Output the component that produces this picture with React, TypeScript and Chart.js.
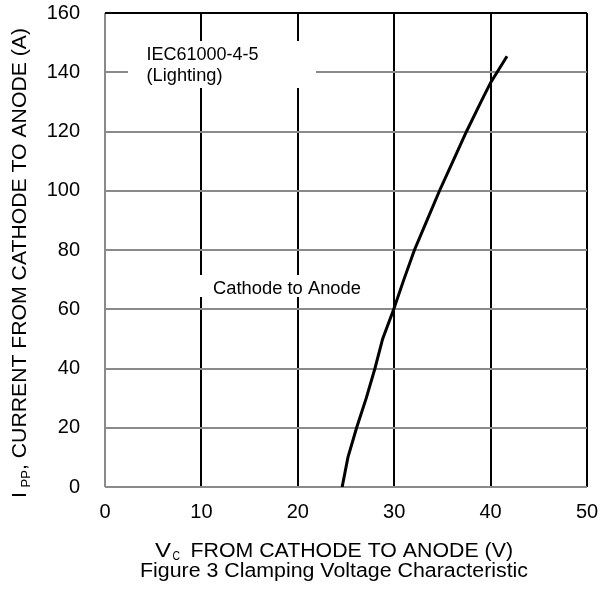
import { useEffect, useRef } from 'react';
import { Chart, registerables } from 'chart.js';

Chart.register(...registerables);

// Clamping voltage (V) vs peak pulse current (A)
const voltage = [24.6, 25.2, 26.1, 27.1, 28.0, 28.8, 29.95, 31.0, 32.1, 33.4, 34.7, 36.1, 37.5, 39.0, 40.0, 41.7];
const current = [0, 10, 20, 30, 40, 50, 60, 70, 80, 90, 100, 110, 120, 130, 136.5, 145.4];

const xMin = 0;
const xMax = 50;
const xStep = 10;
const yMin = 0;
const yMax = 160;
const yStep = 20;

const annotationTop = ['IEC61000-4-5', '(Lighting)'];
const annotationMid = 'Cathode to Anode';
const xTitleMain = 'V';
const xTitleSub = 'C';
const xTitleRest = 'FROM CATHODE TO ANODE (V)';
const yTitleMain = 'I';
const yTitleSub = 'PP';
const yTitleRest = ', CURRENT FROM CATHODE TO ANODE (A)';
const caption = 'Figure 3 Clamping Voltage Characteristic';

const FONT = '"Liberation Sans", Arial, sans-serif';

function fitText(ctx: CanvasRenderingContext2D, text: string, x: number, y: number, width: number, size: number) {
  ctx.save();
  ctx.font = `${size}px ${FONT}`;
  ctx.textAlign = 'left';
  ctx.textBaseline = 'alphabetic';
  const m = ctx.measureText(text);
  const w = m.width || 1;
  ctx.translate(x, y);
  ctx.scale(width / w, 1);
  ctx.fillText(text, 0, 0);
  ctx.restore();
}

const textPlugin = {
  id: 'textPlugin',
  beforeDatasetsDraw(chart: any) {
    const ctx: CanvasRenderingContext2D = chart.ctx;
    ctx.save();
    ctx.fillStyle = '#ffffff';
    ctx.fillRect(128, 41, 188, 47);
    ctx.fillRect(196, 275, 170, 22);
    ctx.fillStyle = '#000000';
    fitText(ctx, annotationTop[0], 146.5, 59.5, 112, 18);
    fitText(ctx, annotationTop[1], 146.5, 80.5, 76, 18);
    fitText(ctx, annotationMid, 213, 293.5, 148, 18);
    ctx.restore();
  },
  afterDraw(chart: any) {
    const ctx: CanvasRenderingContext2D = chart.ctx;
    ctx.save();
    ctx.fillStyle = '#000000';
    // x title
    fitText(ctx, xTitleMain, 155, 556.5, 16, 20);
    fitText(ctx, xTitleSub, 172.5, 559.5, 7.5, 12);
    fitText(ctx, xTitleRest, 190.5, 556.5, 322.5, 20);
    // caption
    fitText(ctx, caption, 140, 577, 388, 20);
    // y title (rotated)
    ctx.save();
    ctx.translate(26, 498);
    ctx.rotate(-Math.PI / 2);
    fitText(ctx, yTitleMain, 0, 0, 6, 21);
    fitText(ctx, yTitleSub, 10.5, 4, 17.5, 13);
    fitText(ctx, yTitleRest, 28, 0, 442, 21);
    ctx.restore();
    ctx.restore();
  },
};

export default function App() {
  const canvasRef = useRef<HTMLCanvasElement | null>(null);

  useEffect(() => {
    const canvas = canvasRef.current;
    if (!canvas) return;
    const points = voltage.map((v, i) => ({ x: v, y: current[i] }));
    const chart = new Chart(canvas, {
      type: 'scatter',
      data: {
        datasets: [
          {
            data: points,
            showLine: true,
            borderColor: '#000000',
            borderWidth: 3,
            pointRadius: 0,
            tension: 0,
            fill: false,
          },
        ],
      },
      options: {
        animation: false,
        responsive: false,
        maintainAspectRatio: false,
        devicePixelRatio: 1,
        layout: { padding: { top: 13, right: 13, left: 0, bottom: 0 } },
        plugins: {
          legend: { display: false },
          tooltip: { enabled: false },
          title: { display: false },
        },
        scales: {
          x: {
            type: 'linear',
            min: xMin,
            max: xMax,
            border: { display: false },
            ticks: {
              stepSize: xStep,
              color: '#000000',
              font: { family: FONT, size: 20 },
              padding: 13,
              maxRotation: 0,
            },
            grid: {
              drawTicks: false,
              lineWidth: 2,
              color: (c: any) => (c.tick && c.tick.value === xMin ? '#8a8a8a' : '#000000'),
            },
            afterFit: (scale: any) => {
              scale.height = 102;
              scale.paddingLeft = 0;
              scale.paddingRight = 0;
            },
          },
          y: {
            type: 'linear',
            min: yMin,
            max: yMax,
            border: { display: false },
            ticks: {
              stepSize: yStep,
              color: '#000000',
              font: { family: FONT, size: 20 },
              padding: 25,
            },
            grid: {
              drawTicks: false,
              lineWidth: 2,
              color: (c: any) => (c.tick && c.tick.value === yMax ? '#000000' : '#8a8a8a'),
            },
            afterFit: (scale: any) => {
              scale.width = 105;
              scale.paddingTop = 0;
              scale.paddingBottom = 0;
            },
          },
        },
      },
      plugins: [textPlugin],
    });
    return () => chart.destroy();
  }, []);

  return (
    <div style={{ position: 'absolute', left: 0, top: 0, width: 600, height: 589, background: '#ffffff' }}>
      <canvas ref={canvasRef} width={600} height={589} style={{ width: 600, height: 589, display: 'block' }} />
    </div>
  );
}
